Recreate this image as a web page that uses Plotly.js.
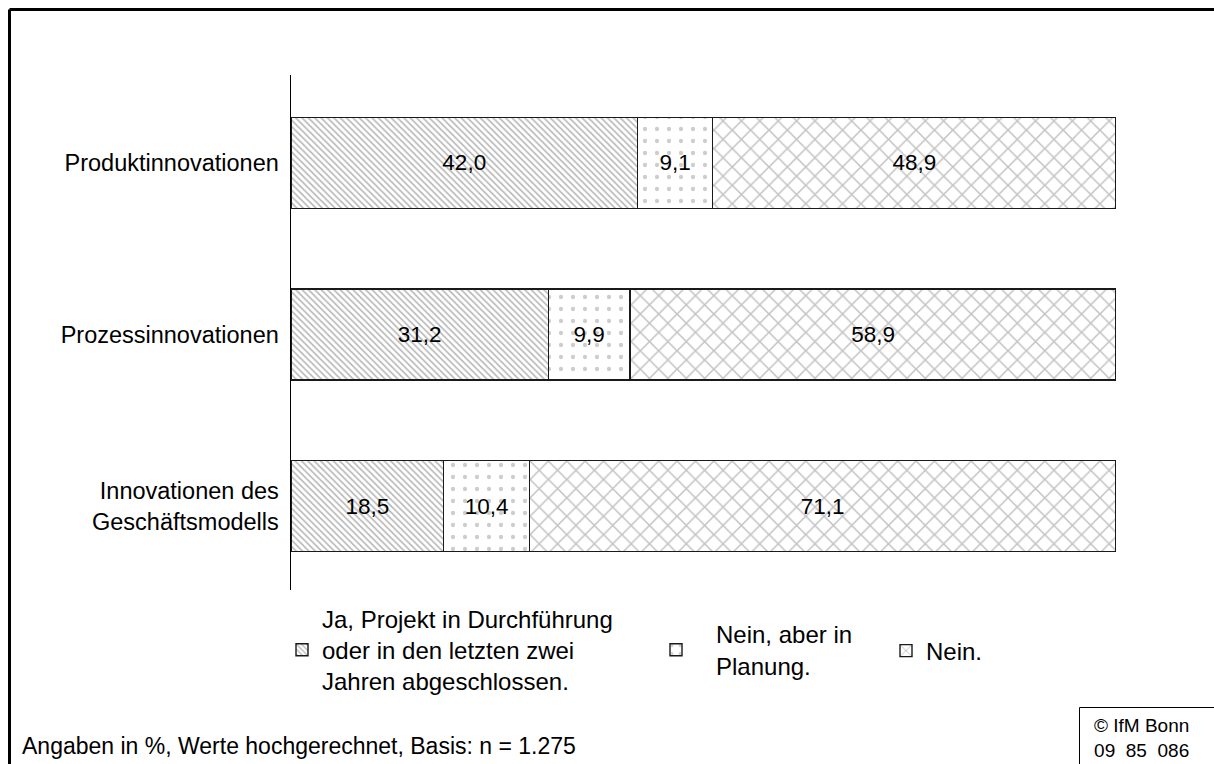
<!DOCTYPE html>
<html>
<head>
<meta charset="utf-8">
<script src="https://cdn.plot.ly/plotly-3.0.1.min.js"></script>
<style>
html,body{margin:0;padding:0;background:#fff;}
#chart{width:1214px;height:764px;}
</style>
</head>
<body>
<div id="chart"></div>
<script>
// ---- data ----
const categories = ["Produktinnovationen", "Prozessinnovationen", "Innovationen des<br>Geschäftsmodells"];
const seriesNames = ["Ja, Projekt in Durchführung<br>oder in den letzten zwei<br>Jahren abgeschlossen.", "Nein, aber in<br>Planung.", "Nein."];
const valuesJa = [42.0, 31.2, 18.5];
const valuesPlanung = [9.1, 9.9, 10.4];
const valuesNein = [48.9, 58.9, 71.1];
const footnote = "Angaben in %, Werte hochgerechnet, Basis: n = 1.275";
const sourceBox = "© IfM Bonn<br>09  85  086";

// ---- layout geometry (pixels) ----
const W = 1214, H = 764;
const L = 291, R = 1116, T = 75, B = 590;
const px2x = p => (p - L) / (R - L);
const py2y = p => (B - p) / (B - T);

const FONT = "Liberation Sans, Arial, sans-serif";
const fmt = v => v.toFixed(1).replace(".", ",");

const patterns = [
  {shape: "\\", size: 4.5, solidity: 0.35, fgcolor: "#6e6e6e", bgcolor: "#ffffff", fillmode: "overlay"},
  {shape: ".", size: 12, solidity: 0.1, fgcolor: "#9a9a9a", bgcolor: "#ffffff", fillmode: "overlay"},
  {shape: "x", size: 13, solidity: 0.22, fgcolor: "#858585", bgcolor: "#ffffff", fillmode: "overlay"}
];
const allValues = [valuesJa, valuesPlanung, valuesNein];
const legendIds = ["legend", "legend2", "legend3"];

const traces = allValues.map((vals, i) => ({
  type: "bar",
  orientation: "h",
  name: seriesNames[i],
  y: categories,
  x: vals,
  text: vals.map(fmt),
  textposition: "inside",
  insidetextanchor: "middle",
  constraintext: "none",
  textfont: {family: FONT, size: 22.5, color: "#000"},
  marker: {color: "#ffffff", pattern: patterns[i], line: {color: "#1a1a1a", width: 1.4}},
  width: 0.53,
  legend: legendIds[i],
  hoverinfo: "x+y"
}));

const legendBase = {
  orientation: "v",
  font: {family: FONT, size: 24, color: "#000"},
  bgcolor: "rgba(0,0,0,0)",
  borderwidth: 0,
  valign: "middle",
  xanchor: "left",
  yanchor: "middle",
  itemclick: false,
  itemdoubleclick: false
};

const layout = {
  width: W, height: H,
  margin: {l: L, r: W - R, t: T, b: H - B},
  paper_bgcolor: "#fff",
  plot_bgcolor: "#fff",
  barmode: "stack",
  font: {family: FONT, size: 22, color: "#000"},
  showlegend: true,
  xaxis: {range: [0, 100], visible: false, fixedrange: true},
  yaxis: {
    type: "category",
    categoryorder: "array",
    categoryarray: categories,
    range: [2.488, -0.512],
    showline: true, linecolor: "#000", linewidth: 1.5,
    ticks: "", showgrid: false, zeroline: false,
    ticklabelstandoff: 6,
    tickfont: {family: FONT, size: 23.5, color: "#000"},
    fixedrange: true
  },
  legend: Object.assign({}, legendBase, {x: px2x(282), y: py2y(650)}),
  legend2: Object.assign({}, legendBase, {x: px2x(636), y: py2y(650), itemwidth: 70}),
  legend3: Object.assign({}, legendBase, {x: px2x(886), y: py2y(651)}),
  annotations: [
    {xref: "paper", yref: "paper", x: px2x(20), y: py2y(746), xanchor: "left", yanchor: "middle",
     text: footnote, showarrow: false, font: {family: FONT, size: 23, color: "#000"}},
    {xref: "paper", yref: "paper", x: px2x(1141), y: py2y(738), xanchor: "center", yanchor: "middle",
     text: sourceBox, showarrow: false, align: "center", font: {family: FONT, size: 19, color: "#000"}}
  ],
  shapes: [
    // outer frame (top + left)
    {type: "line", xref: "paper", yref: "paper", x0: px2x(9.5), x1: px2x(1220), y0: py2y(9.5), y1: py2y(9.5), line: {color: "#000", width: 3}},
    {type: "line", xref: "paper", yref: "paper", x0: px2x(9.5), x1: px2x(9.5), y0: py2y(9.5), y1: py2y(770), line: {color: "#000", width: 3}},
    // source box
    {type: "rect", xref: "paper", yref: "paper", x0: px2x(1079.5), x1: px2x(1225), y0: py2y(707.5), y1: py2y(775), line: {color: "#000", width: 1}, fillcolor: "rgba(0,0,0,0)"}
  ]
};

Plotly.newPlot("chart", traces, layout, {displayModeBar: false, staticPlot: true});
</script>
</body>
</html>
